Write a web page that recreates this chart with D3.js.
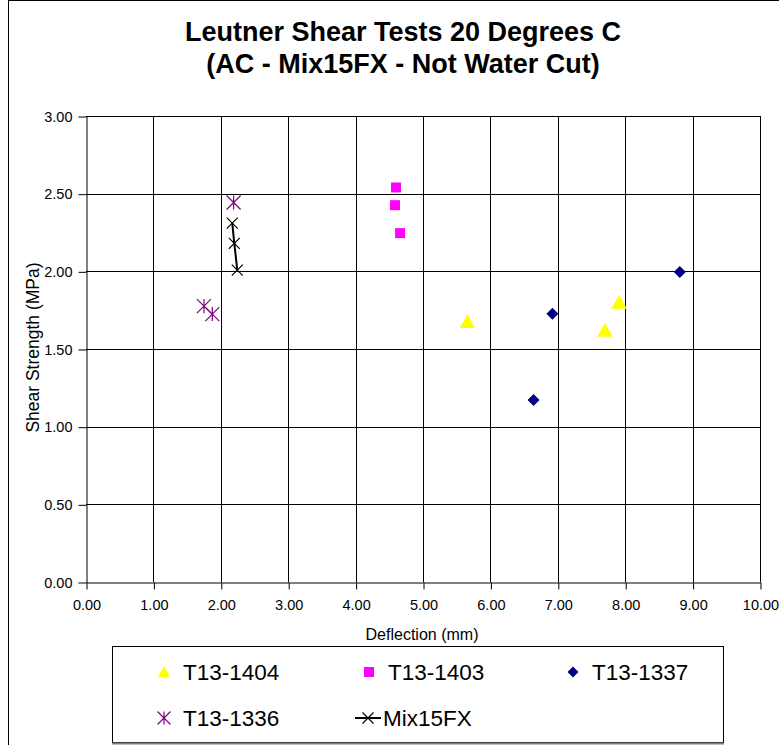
<!DOCTYPE html>
<html><head><meta charset="utf-8">
<script src="https://cdn.jsdelivr.net/npm/d3@7"></script>
<style>body{margin:0;background:#fff;} svg{display:block;font-family:Arial,"Liberation Sans",sans-serif;}</style>
</head><body>
<svg id="c" width="779" height="745"></svg>
<script>
const titleLines = ["Leutner Shear Tests 20 Degrees C", "(AC - Mix15FX - Not Water Cut)"];
const xTicks = [0,1,2,3,4,5,6,7,8,9,10];
const yTicks = [0,0.5,1,1.5,2,2.5,3];
const xLabel = "Deflection (mm)";
const yLabel = "Shear Strength (MPa)";

const t1404 = [[5.66,1.675],[7.70,1.62],[7.91,1.80]];
const t1403 = [[4.60,2.54],[4.585,2.426],[4.66,2.246]];
const t1337 = [[6.92,1.727],[6.64,1.171],[8.81,1.995]];
const t1336 = [[1.75,1.776],[1.874,1.725],[2.19,2.443]];
const mix15 = [[2.17,2.31],[2.20,2.18],[2.245,2.008]];

const seriesNames = ["T13-1404","T13-1403","T13-1337","T13-1336","Mix15FX"];

const svg = d3.select("#c");
const L=86,R=760,T=116,B=582;
const x = d3.scaleLinear().domain([0,10]).range([L,R]);
const y = d3.scaleLinear().domain([0,3]).range([B,T]);

// outer frame
svg.append("rect").attr("x",8.5).attr("y",0.5).attr("width",800).attr("height",760)
  .attr("fill","none").attr("stroke","#000").attr("stroke-width",1);

// title
svg.selectAll("text.title").data(titleLines).join("text")
  .attr("x",403).attr("y",(d,i)=>41+i*32).attr("text-anchor","middle")
  .attr("font-size",27).attr("font-weight","bold").text(d=>d);

// grid
svg.append("g").selectAll("line").data(xTicks.slice(1)).join("line")
  .attr("x1",d=>Math.round(x(d))+0.5).attr("x2",d=>Math.round(x(d))+0.5).attr("y1",T).attr("y2",B)
  .attr("stroke","#000");
svg.append("g").selectAll("line").data(yTicks.slice(1)).join("line")
  .attr("y1",d=>Math.round(y(d))+0.5).attr("y2",d=>Math.round(y(d))+0.5).attr("x1",L).attr("x2",R)
  .attr("stroke","#000");

// axes
const xAxis = d3.axisBottom(x).tickValues(xTicks).tickFormat(d3.format(".2f")).tickSizeInner(7).tickSizeOuter(0).tickPadding(8);
const gx = svg.append("g").attr("transform",`translate(0.5,${Math.round(B)+0.5})`).call(xAxis);
const yAxis = d3.axisLeft(y).tickValues(yTicks).tickFormat(d3.format(".2f")).tickSizeInner(8).tickSizeOuter(0).tickPadding(6);
const gy = svg.append("g").attr("transform",`translate(${L+0.5},0.5)`).call(yAxis);
[gx,gy].forEach(g=>{
  g.selectAll("text").attr("font-size",14.5).attr("font-family","Arial,'Liberation Sans',sans-serif").attr("fill","#000");
  g.selectAll("line,path").attr("stroke","#000");
});
gx.selectAll("text").attr("dy","0.85em");

svg.append("text").attr("x",422).attr("y",640).attr("text-anchor","middle").attr("font-size",16).text(xLabel);
svg.append("text").attr("transform",`translate(39,${(263+432)/2}) rotate(-90)`).attr("text-anchor","middle").attr("font-size",17.5).text(yLabel);

// marker generators
function tri(g,cx,cy,s){g.append("path").attr("d",`M${cx},${cy-s*0.55}L${cx+s*0.55},${cy+s*0.45}L${cx-s*0.55},${cy+s*0.45}Z`).attr("fill","#ffff00");}
function sq(g,cx,cy,s){g.append("rect").attr("x",cx-s/2).attr("y",cy-s/2).attr("width",s).attr("height",s).attr("fill","#ff00ff");}
function dia(g,cx,cy,s){g.append("path").attr("d",`M${cx},${cy-s/2}L${cx+s/2},${cy}L${cx},${cy+s/2}L${cx-s/2},${cy}Z`).attr("fill","#000080");}
function star(g,cx,cy,s,col){const h=s/2;g.append("path").attr("d",`M${cx-h},${cy-h}L${cx+h},${cy+h}M${cx-h},${cy+h}L${cx+h},${cy-h}M${cx},${cy-h}L${cx},${cy+h}`).attr("stroke",col).attr("stroke-width",1.2).attr("fill","none");}
function xm(g,cx,cy,s,col){const h=s/2;g.append("path").attr("d",`M${cx-h},${cy-h}L${cx+h},${cy+h}M${cx-h},${cy+h}L${cx+h},${cy-h}`).attr("stroke",col).attr("stroke-width",1.2).attr("fill","none");}

const gp = svg.append("g");
gp.append("path").datum(mix15).attr("d",d3.line().x(d=>x(d[0])).y(d=>y(d[1])))
  .attr("fill","none").attr("stroke","#000").attr("stroke-width",2);
mix15.forEach(d=>xm(gp,x(d[0]),y(d[1]),11,"#000"));
t1336.forEach(d=>star(gp,x(d[0]),y(d[1]),14,"#800080"));
t1403.forEach(d=>sq(gp,x(d[0]),y(d[1]),10));
t1404.forEach(d=>tri(gp,x(d[0]),y(d[1]),14));
t1337.forEach(d=>dia(gp,x(d[0]),y(d[1]),12));

// legend
const lg = svg.append("g");
lg.append("rect").attr("x",112.5).attr("y",646.5).attr("width",611).attr("height",96).attr("fill","#fff").attr("stroke","#000");
lg.append("line").attr("x1",112).attr("x2",724).attr("y1",743.5).attr("y2",743.5).attr("stroke","#808080").attr("stroke-width",2);
const items = [
  {n:seriesNames[0],mx:164,tx:183,row:0,draw:(g,cx,cy)=>tri(g,cx,cy,11)},
  {n:seriesNames[1],mx:369,tx:388,row:0,draw:(g,cx,cy)=>sq(g,cx,cy,10)},
  {n:seriesNames[2],mx:573,tx:592,row:0,draw:(g,cx,cy)=>dia(g,cx,cy,11)},
  {n:seriesNames[3],mx:164,tx:183,row:1,draw:(g,cx,cy)=>star(g,cx,cy,13,"#800080")},
  {n:seriesNames[4],mx:368,tx:383,row:1,draw:(g,cx,cy)=>{g.append("line").attr("x1",cx-13).attr("x2",cx+13).attr("y1",cy).attr("y2",cy).attr("stroke","#000").attr("stroke-width",2);xm(g,cx,cy,11,"#000");}}
];
items.forEach(it=>{
  const cy = 672 + it.row*46;
  it.draw(lg,it.mx,cy);
  lg.append("text").attr("x",it.tx).attr("y",cy).attr("dy","0.36em").attr("font-size",22.5).text(it.n);
});
</script>
</body></html>
